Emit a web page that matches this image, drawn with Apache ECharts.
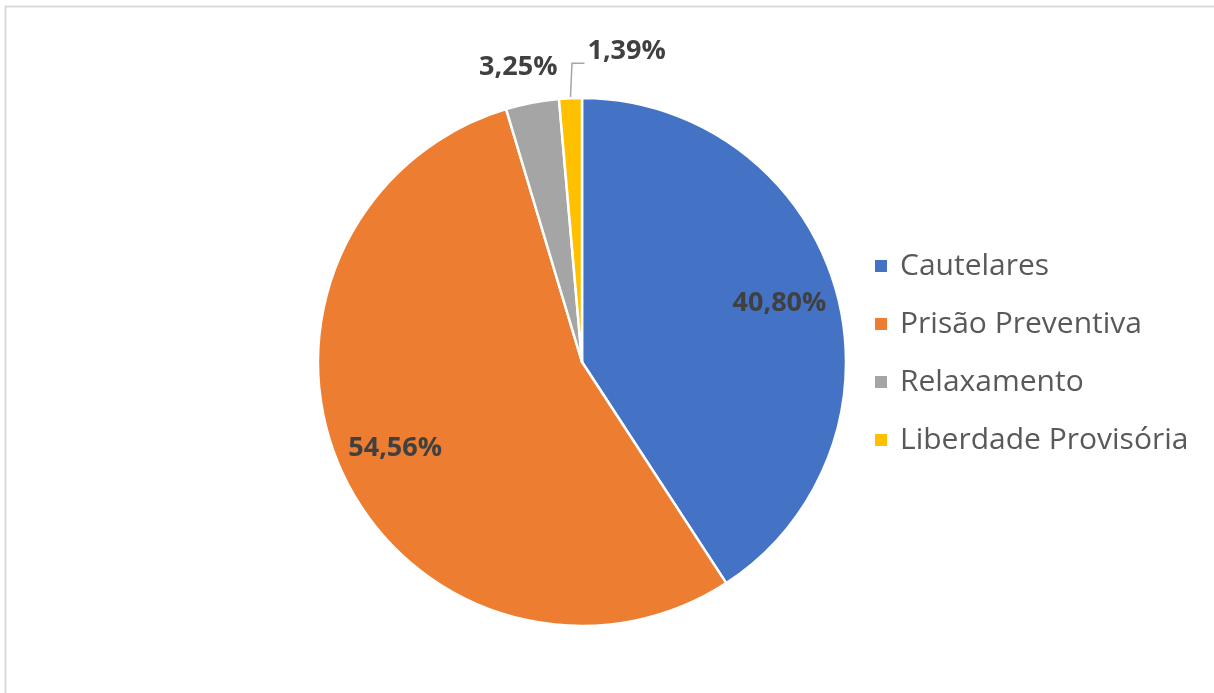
<!DOCTYPE html>
<html>
<head>
<meta charset="utf-8">
<script src="https://cdn.jsdelivr.net/npm/echarts@6/dist/echarts.min.js"></script>
<style>html,body{margin:0;padding:0;background:#fff;}#chart{width:1214px;height:693px;}</style>
</head>
<body>
<div id="chart"></div>
<script>
const categories = ['Cautelares', 'Prisão Preventiva', 'Relaxamento', 'Liberdade Provisória'];
const values = [40.80, 54.56, 3.25, 1.39];
const colors = ['#4472C4', '#ED7D31', '#A5A5A5', '#FFC000'];
const insideLabel = [true, true, false, false];

const fmt = v => v.toFixed(2).replace('.', ',') + '%';
const labelFont = '"Open Sans", sans-serif';
const CX = 582, CY = 362, R = 264;
const total = values.reduce((a, b) => a + b, 0);

function edgePoint(i) {
  let cum = 0;
  for (let k = 0; k < i; k++) cum += values[k];
  const a = (cum + values[i] / 2) / total * 2 * Math.PI;
  return [CX + R * Math.sin(a), CY - R * Math.cos(a)];
}

const baseData = categories.map((c, i) => ({
  name: c, value: values[i],
  itemStyle: { color: colors[i] },
  label: { show: !insideLabel[i] },
  labelLine: { show: i === 3 }
}));
const overlayData = categories.map((c, i) => ({
  name: c, value: values[i],
  itemStyle: { color: 'transparent', borderWidth: 0 },
  label: { show: insideLabel[i] }
}));

const chart = echarts.init(document.getElementById('chart'));
chart.setOption({
  animation: false,
  graphic: [{
    type: 'rect', silent: true,
    shape: { x: 5.5, y: 6.5, width: 1300, height: 800 },
    style: { fill: 'none', stroke: '#d9d9d9', lineWidth: 2 }
  }],
  legend: {
    orient: 'vertical', left: 868, top: 244,
    data: categories,
    itemWidth: 14, itemHeight: 14, itemGap: 24, icon: 'rect',
    textStyle: { fontSize: 30, color: '#595959', fontFamily: labelFont, lineHeight: 34, padding: [0, 0, 0, 7] }
  },
  series: [{
    type: 'pie', center: [CX, CY], radius: R,
    startAngle: 90, clockwise: true, avoidLabelOverlap: false,
    itemStyle: { borderColor: '#fff', borderWidth: 2.5 },
    data: baseData,
    label: {
      position: 'outside', formatter: p => fmt(p.value),
      fontSize: 27, fontWeight: 'bold', color: '#404040', fontFamily: labelFont
    },
    labelLine: { length: 30, length2: 10, lineStyle: { color: '#a6a6a6', width: 1.5 } },
    labelLayout: function (params) {
      const i = params.dataIndex;
      const [ex, ey] = edgePoint(i);
      if (i === 2) {
        return { x: ex - 14, y: ey - 35, align: 'center', verticalAlign: 'middle' };
      }
      if (i === 3) {
        return {
          x: ex + 17, y: ey - 47, align: 'left', verticalAlign: 'middle',
          labelLinePoints: [[ex, ey - 1], [ex + 1.5, ey - 35], [ex + 14, ey - 35]]
        };
      }
      return {};
    },
    emphasis: { disabled: true }
  }, {
    type: 'pie', center: [CX, CY], radius: [142, R],
    startAngle: 90, clockwise: true, silent: true, avoidLabelOverlap: false,
    data: overlayData,
    label: {
      position: 'inside', formatter: p => fmt(p.value),
      fontSize: 27, fontWeight: 'bold', color: '#404040', fontFamily: labelFont
    },
    labelLine: { show: false },
    emphasis: { disabled: true }
  }]
});
</script>
</body>
</html>
